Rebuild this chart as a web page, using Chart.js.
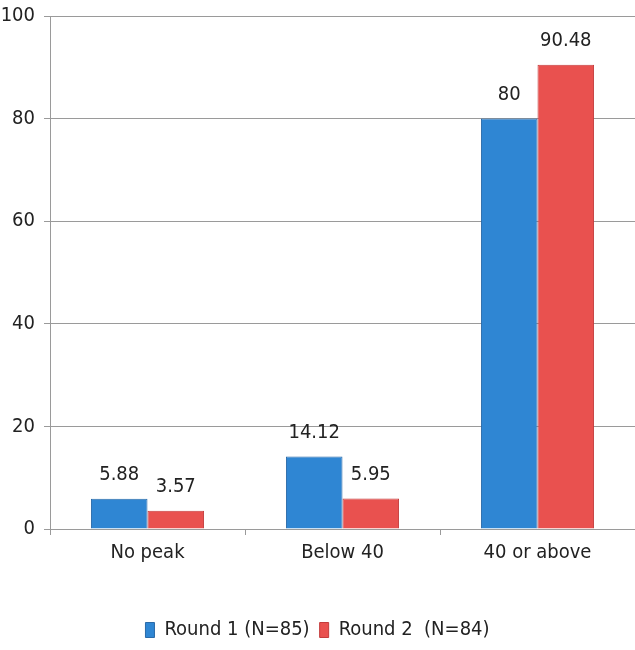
<!DOCTYPE html>
<html>
<head>
<meta charset="utf-8">
<script src="https://cdn.jsdelivr.net/npm/chart.js@4.4.1/dist/chart.umd.min.js"></script>
<style>
  html, body { margin: 0; padding: 0; background: #ffffff; }
  #wrap { width: 635px; height: 650px; }
</style>
</head>
<body>
<div id="wrap"><canvas id="c" width="635" height="650"></canvas></div>
<script>
// Peak score groups and the share of respondents in each (%)
const categories = ['No peak', 'Below 40', '40 or above'];
const round1 = [5.88, 14.12, 80];
const round2 = [3.57, 5.95, 90.48];
const seriesNames = ['Round 1 (N=85)', 'Round 2  (N=84)'];
const yTicks = [0, 20, 40, 60, 80, 100];

const FONT = "'Liberation Sans Narrow', 'DejaVu Sans Condensed', 'Arial Narrow', sans-serif";

// Writes each bar's value just above it
const valueLabels = {
  id: 'valueLabels',
  afterDatasetsDraw(chart) {
    const ctx = chart.ctx;
    ctx.save();
    ctx.font = '20px ' + FONT;
    ctx.fillStyle = '#222';
    ctx.textAlign = 'center';
    ctx.textBaseline = 'bottom';
    chart.data.datasets.forEach((ds, i) => {
      chart.getDatasetMeta(i).data.forEach((bar, j) => {
        ctx.fillText(String(ds.data[j]), bar.x, bar.y - 14);
      });
    });
    ctx.restore();
  }
};

new Chart(document.getElementById('c'), {
  type: 'bar',
  data: {
    labels: categories,
    datasets: [
      { label: seriesNames[0], data: round1, backgroundColor: '#2f86d3', borderColor: '#2a6aa8', borderWidth: 1 },
      { label: seriesNames[1], data: round2, backgroundColor: '#e9514f', borderColor: '#c43c3c', borderWidth: 1 }
    ]
  },
  options: {
    responsive: false,
    animation: false,
    layout: { padding: { top: 16, right: 0, left: 0, bottom: 0 } },
    datasets: { bar: { categoryPercentage: 0.58, barPercentage: 1.0 } },
    plugins: {
      legend: {
        position: 'bottom',
        labels: {
          font: { family: FONT, size: 20 },
          color: '#222',
          boxWidth: 9,
          boxHeight: 15,
          padding: 10
        }
      },
      tooltip: { enabled: false }
    },
    scales: {
      y: {
        min: 0,
        max: 100,
        afterBuildTicks(scale) { scale.ticks = yTicks.map(v => ({ value: v })); },
        afterFit(scale) {
          scale.width = 50;
          scale.paddingTop = 0;
          scale.paddingBottom = 0;
        },
        ticks: { font: { family: FONT, size: 20 }, color: '#222', padding: 9 },
        grid: { color: '#9a9a9a', lineWidth: 1, tickLength: 6 },
        border: { color: '#9a9a9a' }
      },
      x: {
        afterFit(scale) { scale.height = 81; },
        ticks: { font: { family: FONT, size: 20 }, color: '#222', padding: 6 },
        grid: { offset: true, drawOnChartArea: false, color: '#9a9a9a', tickLength: 6 },
        border: { color: '#9a9a9a' }
      }
    }
  },
  plugins: [valueLabels]
});
</script>
</body>
</html>
